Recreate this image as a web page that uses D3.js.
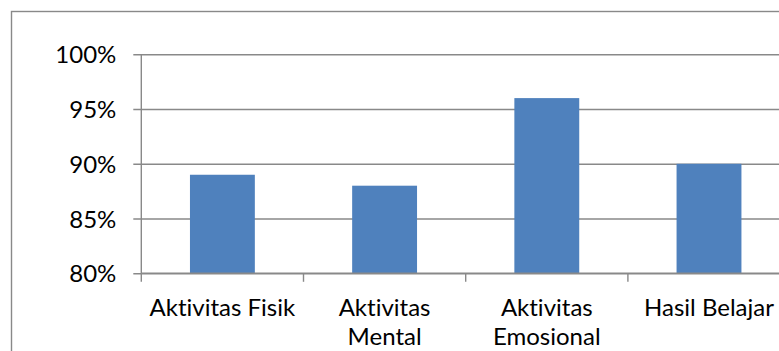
<!DOCTYPE html>
<html>
<head>
<meta charset="utf-8">
<script src="https://cdn.jsdelivr.net/npm/d3@7"></script>
<style>
  html, body { margin: 0; padding: 0; background: #fff; }
  svg { display: block; }
  text {
    font-family: Lato, "Open Sans", sans-serif;
    fill: #000;
    font-variant-ligatures: none;
    font-feature-settings: "liga" 0, "clig" 0;
  }
</style>
</head>
<body>
<svg id="chart" width="779" height="351"></svg>
<script>
// Persentase capaian per aspek
const categories = ["Aktivitas Fisik", "Aktivitas Mental", "Aktivitas Emosional", "Hasil Belajar"];
const values = [0.89, 0.88, 0.96, 0.90];
const yTicks = [0.80, 0.85, 0.90, 0.95, 1.00];

const W = 779, H = 351;
const svg = d3.select("#chart");
const gridColor = "#898989";
const barColor = "#4F81BD";
const fontSize = 24;

// chart area frame
svg.append("rect")
  .attr("x", 11.5).attr("y", 11.5)
  .attr("width", 900).attr("height", 500)
  .attr("fill", "none")
  .attr("stroke", gridColor)
  .attr("stroke-width", 1.4);

const plot = { left: 141.3, right: 790.1, top: 54.3, bottom: 273.3 };

const y = d3.scaleLinear().domain([0.8, 1.0]).range([plot.bottom, plot.top]);
const xBands = d3.scaleBand().domain(categories).range([plot.left, plot.right]).padding(0);
const xBars = d3.scaleBand().domain(categories).range([plot.left, plot.right])
  .paddingInner(0.6).paddingOuter(0.3);

// horizontal gridlines with tick marks
const yAxis = d3.axisLeft(y)
  .tickValues(yTicks)
  .tickFormat(d3.format(".0%"))
  .tickSize(plot.right - plot.left + 8)
  .tickPadding(17);

const gy = svg.append("g")
  .attr("transform", `translate(${plot.right},0)`)
  .call(yAxis);
gy.select(".domain").remove();
gy.selectAll(".tick line")
  .attr("stroke", gridColor)
  .attr("stroke-width", 1.4);
gy.selectAll(".tick text")
  .attr("font-size", fontSize)
  .attr("dy", "0.36em")
  .style("font-family", "Lato, 'Open Sans', sans-serif");

// bars
svg.append("g").selectAll("rect")
  .data(categories)
  .join("rect")
  .attr("x", d => xBars(d))
  .attr("width", xBars.bandwidth())
  .attr("y", (d, i) => y(values[i]))
  .attr("height", (d, i) => y(0.8) - y(values[i]))
  .attr("fill", barColor);

// vertical axis line
svg.append("line")
  .attr("x1", plot.left).attr("x2", plot.left)
  .attr("y1", plot.top).attr("y2", plot.bottom + 8.5)
  .attr("stroke", gridColor).attr("stroke-width", 1.4);

// category axis: baseline, boundary ticks and wrapped labels
svg.append("line")
  .attr("x1", plot.left).attr("x2", plot.right)
  .attr("y1", plot.bottom).attr("y2", plot.bottom)
  .attr("stroke", gridColor).attr("stroke-width", 1.4);

svg.append("g").selectAll("line")
  .data(categories)
  .join("line")
  .attr("x1", d => xBands(d) + xBands.bandwidth())
  .attr("x2", d => xBands(d) + xBands.bandwidth())
  .attr("y1", plot.bottom).attr("y2", plot.bottom + 8.5)
  .attr("stroke", gridColor).attr("stroke-width", 1.4);

const labels = svg.append("g").selectAll("text")
  .data(categories)
  .join("text")
  .attr("x", d => xBands(d) + xBands.bandwidth() / 2)
  .attr("y", 316)
  .attr("text-anchor", "middle")
  .attr("font-size", fontSize);

labels.each(function(d) {
  const t = d3.select(this);
  const cx = xBands(d) + xBands.bandwidth() / 2;
  const words = d.split(" ");
  let line = [];
  let lines = [];
  const probe = t.append("tspan");
  words.forEach(w => {
    const test = line.concat([w]).join(" ");
    probe.text(test);
    if (probe.node().getComputedTextLength() > xBands.bandwidth() - 4 && line.length) {
      lines.push(line.join(" "));
      line = [w];
    } else {
      line.push(w);
    }
  });
  lines.push(line.join(" "));
  probe.remove();
  lines.forEach((l, k) => {
    t.append("tspan").attr("x", cx).attr("dy", k === 0 ? 0 : 29).text(l);
  });
});
</script>
</body>
</html>
